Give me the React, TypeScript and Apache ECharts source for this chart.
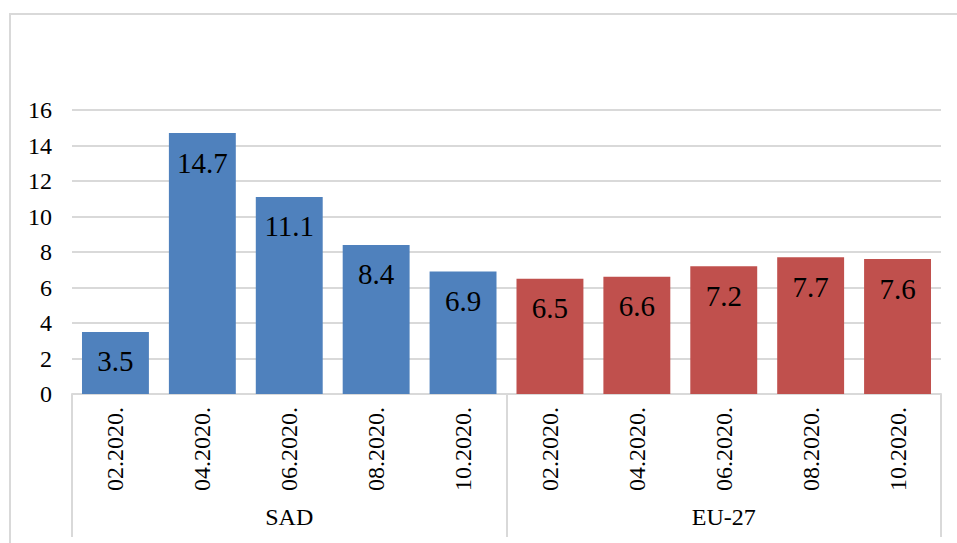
import React, { useEffect, useRef } from "react";
import * as echarts from "echarts";

const months = ["02.2020.", "04.2020.", "06.2020.", "08.2020.", "10.2020."];
const groups = ["SAD", "EU-27"];
const sadValues = [3.5, 14.7, 11.1, 8.4, 6.9];
const euValues = [6.5, 6.6, 7.2, 7.7, 7.6];
const groupColors = ["#4F81BD", "#C0504D"];
const yTicks = { min: 0, max: 16, interval: 2 };

const FONT = "Liberation Serif";
const GRAY = "#d9d9d9";

export default function App() {
  const ref = useRef<HTMLDivElement>(null);

  useEffect(() => {
    if (!ref.current) return;
    const chart = echarts.init(ref.current, undefined, { renderer: "svg" });

    const categories = [...months, ...months];
    const groupValues = [sadValues, euValues];
    const data: any[] = [];
    groupValues.forEach((vals, gi) => {
      vals.forEach((v) => {
        data.push({ value: v, itemStyle: { color: groupColors[gi] } });
      });
    });

    chart.setOption({
      animation: false,
      backgroundColor: "#ffffff",
      textStyle: { fontFamily: FONT },
      graphic: [
        {
          type: "rect",
          shape: { x: 10, y: 14, width: 1000, height: 600 },
          style: { fill: "none", stroke: GRAY, lineWidth: 2 },
          silent: true,
          z: -10,
        },
      ],
      grid: { left: 72, right: 16, top: 110, bottom: 149, containLabel: false },
      xAxis: [
        {
          type: "category",
          data: categories,
          position: "bottom",
          axisLine: { show: true, lineStyle: { color: GRAY, width: 2 } },
          axisTick: { show: false },
          axisLabel: {
            rotate: 90,
            margin: 13,
            fontSize: 24,
            color: "#000",
            fontFamily: FONT,
            interval: 0,
          },
        },
        {
          type: "category",
          data: groups,
          position: "bottom",
          offset: 0,
          axisLine: { show: false },
          axisTick: { show: true, length: 143, lineStyle: { color: GRAY, width: 2 } },
          axisLabel: {
            margin: 111,
            fontSize: 24,
            color: "#000",
            fontFamily: FONT,
          },
        },
      ],
      yAxis: {
        type: "value",
        min: yTicks.min,
        max: yTicks.max,
        interval: yTicks.interval,
        axisLine: { show: false },
        axisTick: { show: false },
        axisLabel: { fontSize: 24, color: "#000", fontFamily: FONT, margin: 20 },
        splitLine: { show: true, lineStyle: { color: GRAY, width: 2 } },
      },
      series: [
        {
          type: "bar",
          xAxisIndex: 0,
          data,
          barCategoryGap: "23%",
          label: {
            show: true,
            position: "insideTop",
            distance: 15,
            fontSize: 29,
            color: "#000",
            fontFamily: FONT,
            formatter: (p: any) => Number(p.value).toFixed(1),
          },
        },
      ],
    });

    return () => chart.dispose();
  }, []);

  return (
    <div
      ref={ref}
      style={{ position: "absolute", left: 0, top: 0, width: 957, height: 543 }}
    />
  );
}
